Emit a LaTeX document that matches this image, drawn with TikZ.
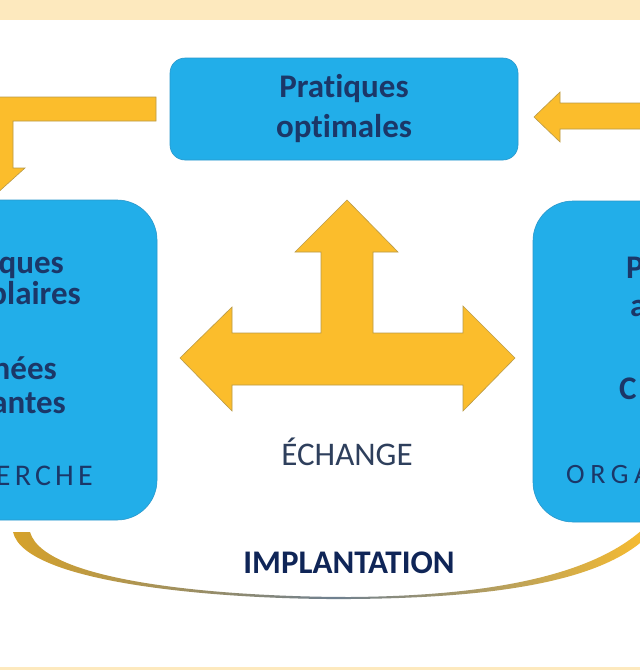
\documentclass[tikz,border=0pt]{standalone}
\usepackage{fontspec}
\setmainfont{Carlito}[Ligatures=NoCommon]
\usepackage{tikz}
\usetikzlibrary{positioning,calc}
\definecolor{bleu}{HTML}{22AEE9}
\definecolor{bleubord}{HTML}{2A98CC}
\definecolor{or}{HTML}{FBBD2C}
\definecolor{orfonce}{HTML}{D6A22A}
\definecolor{ardoise}{HTML}{6F8090}
\definecolor{orbord}{HTML}{B99A48}
\definecolor{marine}{HTML}{1B3768}
\definecolor{encre}{HTML}{0F2557}
\definecolor{gris}{HTML}{2E3F5C}
\definecolor{bande}{HTML}{FDE9BE}
\tikzset{
  boite/.style={draw=bleubord,fill=bleu,line width=0.6pt},
  fleche/.style={draw=orbord,fill=or,line width=0.6pt,line join=miter},
  gros/.style={font=\fontsize{33}{40}\selectfont\bfseries,text=marine},
  espace/.style={font=\fontsize{28}{34}\selectfont\addfontfeature{LetterSpace=20},text=marine},
}

\begin{document}
\begin{tikzpicture}[x=1pt,y=-1pt]
  \useasboundingbox (0,0) rectangle (640,670);
  \clip (0,0) rectangle (640,670);
  \fill[white] (0,0) rectangle (640,670);
  % bandes
  \fill[bande] (0,0) rectangle (640,20);
  \fill[bande] (0,667) rectangle (640,670);
  % boites
  \node[boite,rounded corners=15pt,minimum width=348pt,minimum height=102pt,
    gros,align=center] (opt) at (344,109) {Pratiques\\optimales};
  \draw[boite,rounded corners=40pt] (-160,200) rectangle (157,520);
  \draw[boite,rounded corners=40pt] (533,201) rectangle (800,522);
  % textes coupes
  \node[gros,anchor=base east,inner sep=0pt] (t1) at (64,273) {ques};
  \node[gros,anchor=base east,inner sep=0pt] (t2) at (81,304) {plaires};
  \node[gros,anchor=base east,inner sep=0pt] (t3) at (57,379) {nées};
  \node[gros,anchor=base east,inner sep=0pt] (t4) at (66,413) {antes};
  \node[espace,font=\fontsize{30}{34}\selectfont\addfontfeature{LetterSpace=14},
    anchor=base east,inner sep=0pt] (t5) at (93,485) {ERCHE};
  \node[gros,anchor=base west,inner sep=0pt] (u1) at (626,278) {P};
  \node[gros,anchor=base west,inner sep=0pt] (u2) at (630,316) {a};
  \node[gros,anchor=base west,inner sep=0pt] (u3) at (619,399) {C};
  \node[espace,anchor=base west,inner sep=0pt] (u4) at (566,483) {ORGA};
  % fleches
  \draw[fleche] (156,97) -- (156,121) -- (13,121) -- (13,168) -- (25,168)
    -- (-6,196) -- (-37,168) -- (-12,168) -- (-12,97) -- cycle;
  \draw[fleche] (534,117) -- (560,92) -- (560,103) -- (660,103) -- (660,129)
    -- (560,129) -- (560,142) -- cycle;
  \draw[fleche] (180,358) -- (232,307) -- (232,333) -- (321,333) -- (321,252)
    -- (295,252) -- (347,200) -- (398,252) -- (373,252) -- (373,333)
    -- (463,333) -- (463,306) -- (515,358) -- (463,411) -- (463,385)
    -- (232,385) -- (232,411) -- cycle;
  \node[font=\fontsize{33}{38}\selectfont,text=gris] (ech) at (347,452) {ÉCHANGE};
  % implantation
  \shade[left color=orfonce,right color=or,middle color=ardoise]
    (13,532) .. controls (25,585) and (230,600) .. (350,599)
    .. controls (480,598) and (610,585) .. (655,528)
    -- (652,520) .. controls (600,578) and (480,596) .. (350,597)
    .. controls (240,597) and (45,585) .. (30,532) -- cycle;
  \node[font=\fontsize{33}{38}\selectfont\bfseries,text=encre] (impl) at (349,563) {IMPLANTATION};
\end{tikzpicture}
\end{document}
